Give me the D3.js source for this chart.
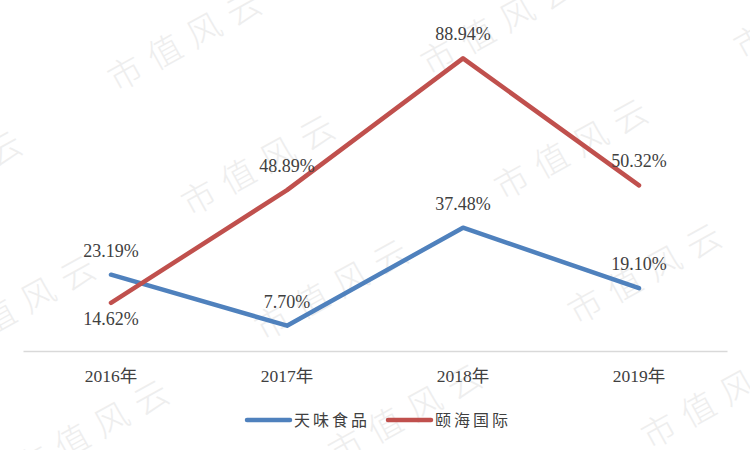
<!DOCTYPE html>
<html>
<head>
<meta charset="utf-8">
<script src="https://cdn.jsdelivr.net/npm/d3@7"></script>
<style>
  html, body { margin: 0; padding: 0; background: #fff; }
</style>
</head>
<body>
<div id="chart"></div>
<script>
const years = ["2016年", "2017年", "2018年", "2019年"];
const tianwei = [23.19, 7.70, 37.48, 19.10];
const yihai = [14.62, 48.89, 88.94, 50.32];
const seriesNames = ["天味食品", "颐海国际"];
const watermarkText = "市值风云";

const width = 750;
const height = 450;
const margin = { top: 22, right: 23, bottom: 99, left: 23 };
const colors = ["#4F81BD", "#C0504D"];
const latin = "'Liberation Serif', 'Times New Roman', 'Noto Sans CJK SC', serif";

const svg = d3.select("#chart")
    .append("svg")
    .attr("width", width)
    .attr("height", height);

svg.append("rect").attr("width", width).attr("height", height).attr("fill", "#fff");

// watermark tiles
const wm = svg.append("g");
for (let i = -2; i <= 4; i++) {
    for (let j = -2; j <= 3; j++) {
        const px = 125 + i * 73.5 + j * 313;
        const py = 73 + i * 124.5 - j * 16;
        if (px < -250 || px > 800 || py < -50 || py > 520) continue;
        wm.append("text")
            .attr("transform", `translate(${px},${py}) rotate(-29)`)
            .attr("x", -17)
            .attr("dy", "0.38em")
            .style("font-family", "'Noto Sans CJK SC', sans-serif")
            .style("font-size", "34px")
            .style("font-weight", "300")
            .style("letter-spacing", "11px")
            .style("fill", "#eeeeee")
            .text(watermarkText);
    }
}

const x = d3.scaleBand().domain(years).range([margin.left, width - margin.right]);
const y = d3.scaleLinear().domain([0, 100]).range([height - margin.bottom, margin.top]);
const cx = d => x(d) + x.bandwidth() / 2;

const xAxisGroup = svg.append("g")
    .attr("transform", `translate(0,${height - margin.bottom})`)
    .call(d3.axisBottom(x).tickSize(0).tickSizeOuter(0));
xAxisGroup.select(".domain").attr("stroke", "#d9d9d9").attr("stroke-width", 1.5);
xAxisGroup.selectAll("text")
    .attr("y", 31)
    .attr("dy", null)
    .style("font-family", latin)
    .style("font-size", "17.5px")
    .style("fill", "#404040");

const series = [tianwei, yihai];
const line = d3.line()
    .x((d, i) => cx(years[i]))
    .y(d => y(d));

series.forEach((vals, k) => {
    svg.append("path")
        .datum(vals)
        .attr("fill", "none")
        .attr("stroke", colors[k])
        .attr("stroke-width", 4.5)
        .attr("stroke-linecap", "round")
        .attr("stroke-linejoin", "round")
        .attr("d", line);
});

// data labels
series.forEach((vals, k) => {
    svg.selectAll(null)
        .data(vals)
        .enter()
        .append("text")
        .attr("x", (d, i) => cx(years[i]))
        .attr("y", (d, i) => (k === 1 && i === 0) ? y(d) + 22 : y(d) - 18)
        .attr("text-anchor", "middle")
        .style("font-family", latin)
        .style("font-size", "18px")
        .style("fill", "#404040")
        .text(d => d.toFixed(2) + "%");
});

// legend
const legendX = [247, 388];
seriesNames.forEach((name, k) => {
    const g = svg.append("g").attr("transform", `translate(${legendX[k]},420)`);
    g.append("line")
        .attr("x1", 0).attr("x2", 43)
        .attr("stroke", colors[k])
        .attr("stroke-width", 4.5)
        .attr("stroke-linecap", "round");
    g.append("text")
        .attr("x", 47)
        .attr("dy", "0.35em")
        .style("font-family", "'Noto Sans CJK SC', sans-serif")
        .style("font-size", "16px")
        .style("letter-spacing", "3px")
        .style("fill", "#404040")
        .text(name);
});
</script>
</body>
</html>
